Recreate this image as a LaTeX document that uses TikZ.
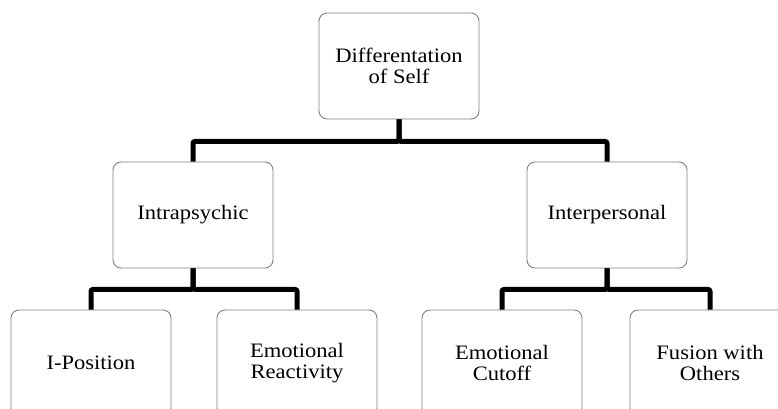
\documentclass[tikz,border=0pt]{standalone}
\usepackage{fontspec}
\setmainfont{Liberation Serif}[FakeStretch=1.1]
\usetikzlibrary{positioning,calc}

\begin{document}
\begin{tikzpicture}[x=1pt, y=1pt,
    box/.style={draw=black!50, line width=0.9pt, rounded corners=8pt, fill=white,
      minimum width=160pt, minimum height=106pt, align=center,
      font=\fontsize{20.5}{20.3}\selectfont},
    link/.style={line width=5pt, rounded corners=2pt}]
  \useasboundingbox (0,0) rectangle (778,-408);
  \clip (0,0) rectangle (778,-408);
  % boxes
  \node[box] (self) at (399,-66) {Differentation\\ of Self};
  \node[box] (intra) at (193,-215) {Intrapsychic};
  \node[box] (inter) at (607,-215) {Interpersonal};
  \node[box] (ipos) at (91,-363) {I-Position};
  \node[box] (react) at (297,-363) {Emotional\\ Reactivity};
  \node[box] (cutoff) at (502,-363) {Emotional\\ Cutoff};
  \node[box] (fusion) at (710,-363) {Fusion with\\ Others};
  % connectors
  \draw[link] (self.south) -- ++(0,-22) -| (intra.north);
  \draw[link] (self.south) -- ++(0,-22) -| (inter.north);
  \draw[link] (intra.south) -- ++(0,-21) -| (ipos.north);
  \draw[link] (intra.south) -- ++(0,-21) -| (react.north);
  \draw[link] (inter.south) -- ++(0,-21) -| (cutoff.north);
  \draw[link] (inter.south) -- ++(0,-21) -| (fusion.north);
\end{tikzpicture}
\end{document}
